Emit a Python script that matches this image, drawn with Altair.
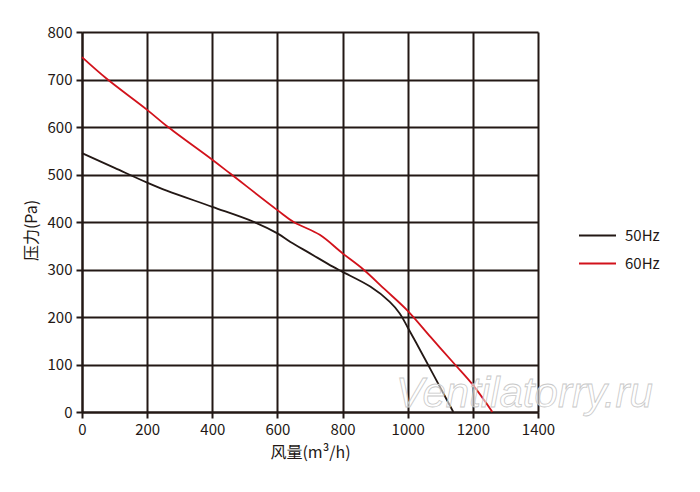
import altair as alt
import pandas as pd

# 50Hz curve
x50 = [0, 100, 200, 260, 400, 525, 600, 640, 700, 770, 800, 885, 945, 975, 1000, 1040, 1080, 1140]
y50 = [545, 514, 483, 466, 432, 401, 376, 358, 334, 306, 295, 264, 232, 208, 178, 128, 77, 0]
# 60Hz curve
x60 = [0, 75, 200, 260, 400, 455, 600, 650, 730, 800, 864, 930, 1000, 1070, 1145, 1200, 1260]
y60 = [747, 702, 636, 602, 531, 502, 425, 400, 373, 334, 300, 258, 213, 158, 100, 57, 0]

series = ["50Hz", "60Hz"]
colors = ["#231815", "#d2121b"]
x_ticks = [0, 200, 400, 600, 800, 1000, 1200, 1400]
y_ticks = [0, 100, 200, 300, 400, 500, 600, 700, 800]
watermark = "Ventilatorry.ru"

rows = []
for i, (xv, yv) in enumerate(zip(x50, y50)):
    rows.append({"q": xv, "p": yv, "s": series[0], "o": i})
for i, (xv, yv) in enumerate(zip(x60, y60)):
    rows.append({"q": xv, "p": yv, "s": series[1], "o": i})
df = pd.DataFrame(rows)

FONT = "Noto Sans CJK SC"
INK = "#231815"

lines = alt.Chart(df).mark_line(interpolate="catmull-rom", strokeWidth=1.8).encode(
    x=alt.X("q:Q", scale=alt.Scale(domain=[0, 1400], nice=False),
            axis=alt.Axis(values=x_ticks, format="d", title="风量(m³/h)", titlePadding=7)),
    y=alt.Y("p:Q", scale=alt.Scale(domain=[0, 800], nice=False),
            axis=alt.Axis(values=y_ticks, format="d", title="压力(Pa)", titlePadding=8, titleY=198)),
    color=alt.Color("s:N", scale=alt.Scale(domain=series, range=colors),
                    legend=alt.Legend(title=None, orient="none", legendX=496, legendY=184,
                                      symbolType="stroke", symbolSize=1369, symbolStrokeWidth=2,
                                      labelFontSize=15, labelFont=FONT, labelColor=INK,
                                      labelOffset=8, rowPadding=-9, padding=0)),
    order="o:Q",
)

wm = alt.Chart(pd.DataFrame({"t": [watermark]})).mark_text(
    font="Liberation Sans", fontSize=42, fontStyle="italic", align="left", baseline="alphabetic",
    fill="white", fillOpacity=0.55, stroke="#c8c8c8", strokeWidth=0.8
).encode(x=alt.value(314), y=alt.value(375), text="t:N")

chart = alt.layer(lines, wm).properties(
    width=456, height=380,
    autosize=alt.AutoSizeParams(type="none"),
    padding={"left": 74, "top": 24, "right": 146, "bottom": 70},
).configure_view(stroke=None).configure_axis(
    grid=True, gridColor=INK, gridWidth=2, gridOpacity=1,
    domainColor=INK, domainWidth=2, tickColor=INK, tickWidth=2, tickSize=6,
    labelFont=FONT, labelFontSize=15, labelColor=INK, labelPadding=4, labelFlush=False,
    titleFont=FONT, titleFontSize=16, titleFontWeight="normal", titleColor=INK,
)

chart.save("out.html", embed_options={"renderer": "svg", "actions": False})
